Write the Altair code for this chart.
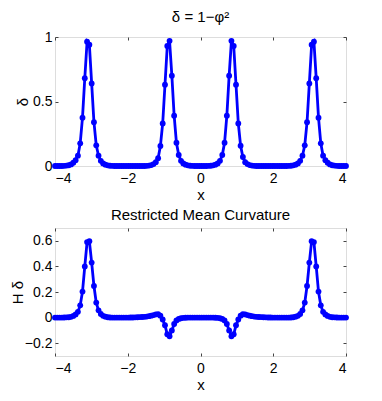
import altair as alt
import numpy as np
import pandas as pd

# sample grid of the reference (128 points from -4 to 4)
x_vals = np.linspace(-4, 4, 128)

# delta = 1 - phi^2
delta = [
    0, 0, 0, 0, 0.001, 0.003, 0.006, 0.012, 0.025, 0.045,
    0.08, 0.176, 0.375, 0.68, 0.964, 0.94, 0.64, 0.34, 0.16, 0.08,
    0.04, 0.02, 0.01, 0.005, 0.002, 0.001, 0, 0, 0, 0,
    0, 0, 0, 0, 0, 0, 0, 0, 0, 0,
    0.001, 0.003, 0.007, 0.015, 0.03, 0.06, 0.155, 0.33, 0.63, 0.93,
    0.97, 0.70, 0.39, 0.18, 0.085, 0.04, 0.02, 0.01, 0.005, 0.002,
    0.001, 0, 0, 0, 0, 0, 0, 0.001, 0.002, 0.005,
    0.01, 0.02, 0.04, 0.085, 0.18, 0.39, 0.70, 0.97, 0.93, 0.63,
    0.33, 0.157, 0.07, 0.03, 0.015, 0.007, 0.003, 0.001, 0, 0,
    0, 0, 0, 0, 0, 0, 0, 0, 0, 0,
    0, 0, 0.001, 0.002, 0.005, 0.01, 0.02, 0.04, 0.08, 0.16,
    0.34, 0.64, 0.94, 0.964, 0.68, 0.375, 0.176, 0.08, 0.045, 0.025,
    0.012, 0.006, 0.003, 0.001, 0, 0, 0, 0,
]

# restricted mean curvature H*delta (bottom panel)
h_delta = [
    0, 0, 0, 0, 0.001, 0.002, 0.003, 0.006, 0.013, 0.025,
    0.045, 0.096, 0.203, 0.40, 0.59, 0.597, 0.43, 0.247, 0.117, 0.057,
    0.028, 0.014, 0.007, 0.003, 0.001, 0, 0, 0, 0, 0,
    0, 0, 0, 0.001, 0.001, 0.002, 0.003, 0.004, 0.005, 0.006,
    0.008, 0.011, 0.015, 0.02, 0.025, 0.026, 0.015, -0.015, -0.06, -0.13,
    -0.146, -0.10, -0.05, -0.022, -0.01, -0.005, -0.002, -0.001, 0, 0,
    0, 0, 0, 0, 0, 0, 0, 0, 0, 0,
    -0.001, -0.002, -0.005, -0.01, -0.022, -0.05, -0.10, -0.146, -0.13, -0.06,
    -0.015, 0.015, 0.026, 0.025, 0.02, 0.015, 0.011, 0.008, 0.006, 0.005,
    0.004, 0.003, 0.002, 0.001, 0.001, 0, 0, 0, 0, 0,
    0, 0, 0, 0.001, 0.003, 0.007, 0.014, 0.028, 0.057, 0.117,
    0.247, 0.43, 0.597, 0.59, 0.40, 0.203, 0.096, 0.045, 0.025, 0.013,
    0.006, 0.003, 0.002, 0.001, 0, 0, 0, 0,
]

x_ticks = [-4, -2, 0, 2, 4]
top_yticks = [0, 0.5, 1]
bot_yticks = [-0.2, 0, 0.2, 0.4, 0.6]

df = pd.DataFrame({"x": x_vals, "delta": delta, "hdelta": h_delta})

FONT = "Liberation Sans"
BLUE = "#0000ff"
W = 291

LBL = dict(labelFont=FONT, labelFontSize=14, labelColor="black",
           titleFont=FONT, titleFontSize=15, titleColor="black",
           titleFontWeight="normal", tickColor="#444444", tickWidth=1,
           domain=False, grid=False)


def panel(field, ydomain, yticks, title, ytitle, ytitle_x, h):
    xs = alt.Scale(domain=[-4, 4], nice=False, zero=False)
    ys = alt.Scale(domain=ydomain, nice=False, zero=False)
    base = alt.Chart(df)
    line = base.mark_line(
        color=BLUE, strokeWidth=2.8, clip=False,
        point=alt.OverlayMarkDef(filled=True, size=34, color=BLUE, opacity=1),
    ).encode(
        x=alt.X("x:Q", scale=xs, axis=alt.Axis(
            values=x_ticks, title="x", orient="bottom", offset=-3, tickSize=3,
            labelPadding=5, titleBaseline="alphabetic", titleY=36,
            format="~g", **LBL)),
        y=alt.Y(f"{field}:Q", scale=ys, axis=alt.Axis(
            values=yticks, title=ytitle, orient="left", offset=-3, tickSize=3,
            labelPadding=3, titleBaseline="alphabetic", titleX=ytitle_x,
            format="~g", **LBL)),
    )
    ticks = base.mark_line(opacity=0).encode(
        x=alt.X("x:Q", scale=xs, axis=alt.Axis(
            values=x_ticks, title=None, orient="top", offset=-3, tickSize=3,
            labels=False, tickColor="#444444", domain=False, grid=False)),
        y=alt.Y(f"{field}:Q", scale=ys, axis=alt.Axis(
            values=yticks, title=None, orient="right", offset=-3, tickSize=3,
            labels=False, tickColor="#444444", domain=False, grid=False)),
    )
    return alt.layer(line, ticks).resolve_axis(
        x="independent", y="independent"
    ).properties(
        width=W, height=h,
        title=alt.TitleParams(title, frame="group", anchor="middle",
                              baseline="alphabetic", offset=-7,
                              font=FONT, fontSize=15, fontWeight="normal",
                              color="black"),
    )


top = panel("delta", [0, 1], top_yticks, "δ = 1−φ²", "δ", -31, 129)
bottom = panel("hdelta", [-0.3, 0.7], bot_yticks, "Restricted Mean Curvature",
               "H δ", -36, 128)

chart = alt.vconcat(top, bottom, spacing=62, bounds="flush").properties(
    autosize=alt.AutoSizeParams(type="none"),
    padding={"left": 47, "top": 29, "right": 28, "bottom": 356},
).configure_axis(
    labelFont=FONT, labelFontSize=14, labelColor="black",
    titleFont=FONT, titleFontSize=15, titleColor="black",
    titleFontWeight="normal", domain=False, grid=False,
    tickColor="#444444", tickWidth=1,
).configure_view(
    stroke="#555555", strokeWidth=1,
).configure(background="white")

chart.save("out.html", embed_options={"renderer": "svg", "actions": False})
